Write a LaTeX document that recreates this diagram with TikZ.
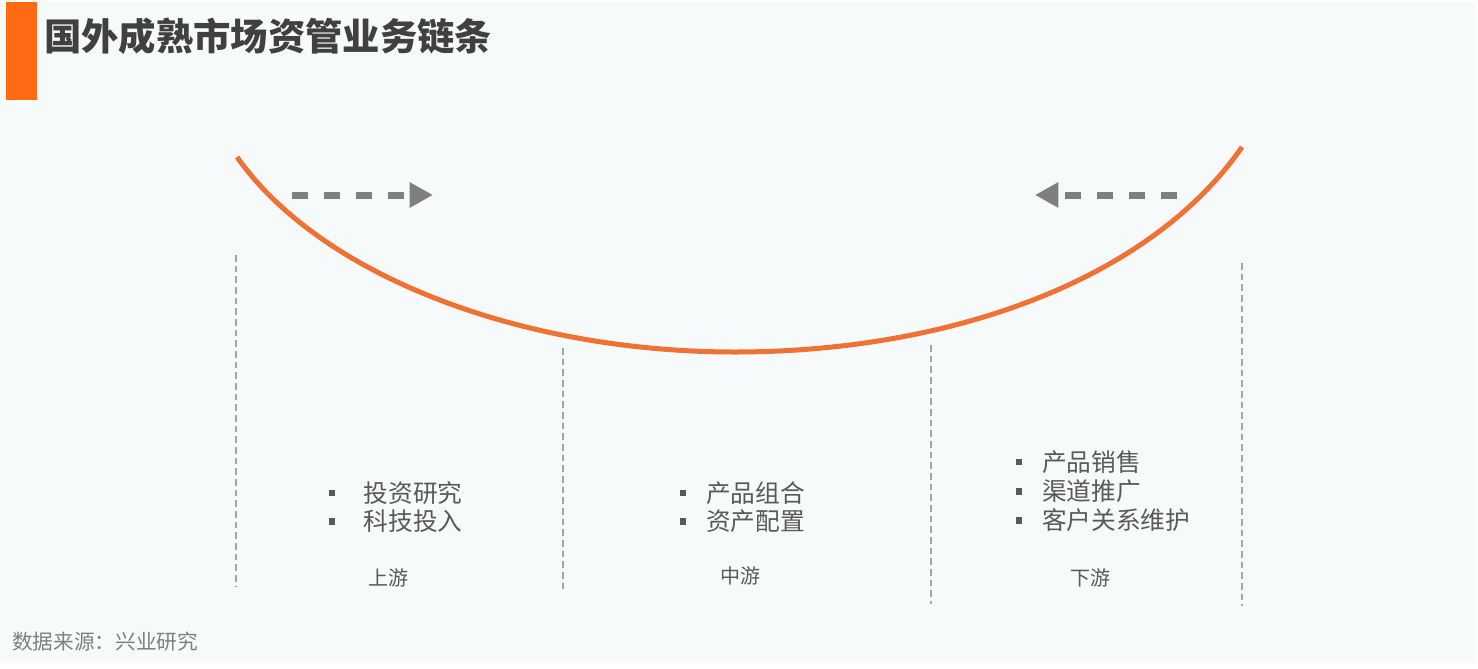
\documentclass[tikz,border=0pt]{standalone}
\usepackage{fontspec}
\setmainfont{Noto Sans CJK SC}
\usepackage{xcolor}
\usetikzlibrary{arrows.meta, positioning}

\definecolor{barorange}{HTML}{FF6A13}
\definecolor{curveorange}{HTML}{EF7133}
\definecolor{titlegray}{HTML}{404040}
\definecolor{arrowgray}{HTML}{7F7F7F}
\definecolor{sepgray}{HTML}{A6A6A6}
\definecolor{textgray}{HTML}{595959}
\definecolor{notegray}{HTML}{7F7F7F}
\definecolor{bggray}{HTML}{F7FAFB}

\begin{document}
\begin{tikzpicture}[x=0.75pt,y=-0.75pt,
  bullet/.style={fill=textgray,rectangle,minimum size=5pt,inner sep=0pt},
  item/.style={text=textgray,font=\fontsize{18.5pt}{22pt}\selectfont,inner sep=0pt,anchor=west},
  stage/.style={text=textgray,font=\fontsize{15pt}{18pt}\selectfont,inner sep=0pt},
  flow/.style={arrowgray,line width=5.25pt,dash pattern=on 12pt off 12pt,-{Triangle[length=17.5pt,width=18pt]}},
  divider/.style={sepgray,line width=1.1pt,dash pattern=on 5pt off 3pt}]
  \useasboundingbox (0,0) rectangle (1478,668);
  \fill[bggray] (0,2) rectangle (1476,663);
  \fill[barorange] (6,2) rectangle (37,100);
  \node[anchor=west,inner sep=0pt,text=titlegray,font=\fontsize{28pt}{32pt}\selectfont\bfseries] (title) at (44,36) {国外成熟市场资管业务链条};

  % curve
  \coordinate (cl) at (237,157);
  \coordinate (cm) at (735,352);
  \coordinate (cr) at (1242,147);
  \draw[curveorange,line width=3.75pt] (cl) .. controls (320,275) and (520,352) .. (cm) .. controls (950,352) and (1150,280) .. (cr);

  % arrows
  \coordinate (a1) at (292,195);
  \coordinate (a2) at (433,195);
  \coordinate (b1) at (1177,195);
  \coordinate (b2) at (1035,195);
  \draw[flow] (a1) -- (a2);
  \draw[flow] (b1) -- (b2);

  % dividers
  \coordinate (d1t) at (236,255);  \coordinate (d1b) at (236,586);
  \coordinate (d2t) at (563,348);  \coordinate (d2b) at (563,592);
  \coordinate (d3t) at (931,345);  \coordinate (d3b) at (931,604);
  \coordinate (d4t) at (1242,263); \coordinate (d4b) at (1242,606);
  \draw[divider] (d1t) -- (d1b);
  \draw[divider] (d2t) -- (d2b);
  \draw[divider] (d3t) -- (d3b);
  \draw[divider] (d4t) -- (d4b);

  % upstream
  \node[bullet] (u1) at (332,493) {};
  \node[bullet,below=16pt of u1] (u2) {};
  \node[item,right=21pt of u1] (ut1) {投资研究};
  \node[item,right=21pt of u2] (ut2) {科技投入};
  \node[stage] (up) at (388,578) {上游};

  % midstream
  \node[bullet] (m1) at (683,493) {};
  \node[bullet,below=16pt of m1] (m2) {};
  \node[item,right=14.5pt of m1] (mt1) {产品组合};
  \node[item,right=14.5pt of m2] (mt2) {资产配置};
  \node[stage] (mid) at (740,576) {中游};

  % downstream
  \node[bullet] (w1) at (1019,462) {};
  \node[bullet,below=16.5pt of w1] (w2) {};
  \node[bullet,below=16.5pt of w2] (w3) {};
  \node[item,right=14.5pt of w1] (wt1) {产品销售};
  \node[item,right=14.5pt of w2] (wt2) {渠道推广};
  \node[item,right=14.5pt of w3] (wt3) {客户关系维护};
  \node[stage] (down) at (1090,578) {下游};

  \node[anchor=west,inner sep=0pt,text=notegray,font=\fontsize{15.5pt}{18pt}\selectfont] (src) at (12,642) {数据来源：兴业研究};
\end{tikzpicture}
\end{document}
